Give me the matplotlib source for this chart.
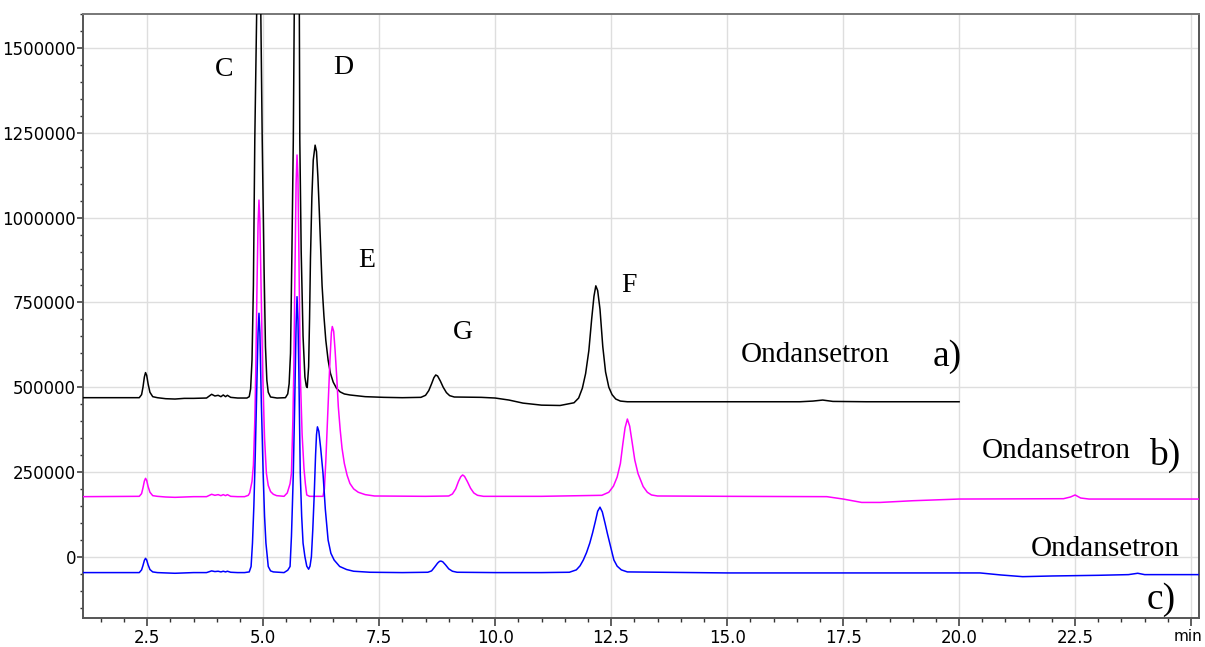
import matplotlib
matplotlib.use("Agg")
import matplotlib.pyplot as plt
from matplotlib.ticker import MultipleLocator, FixedLocator

# ---------------- data ----------------
# trace a) black
t_a = [1.1, 2.33, 2.38, 2.41, 2.44, 2.465, 2.49, 2.52, 2.56, 2.62, 2.72, 2.9, 3.1,
       3.3, 3.5, 3.78, 3.89, 3.96, 4.03, 4.09, 4.14, 4.19, 4.23, 4.30, 4.45,
       4.65, 4.70, 4.73, 4.76, 4.79, 4.82, 4.86, 4.91, 4.95, 4.98, 5.02, 5.05,
       5.08, 5.11, 5.16, 5.30, 5.48, 5.53, 5.56, 5.59, 5.62, 5.65, 5.67, 5.73,
       5.78, 5.79, 5.82, 5.86, 5.90, 5.93, 5.95, 5.98, 6.00, 6.02, 6.05, 6.08,
       6.12, 6.15, 6.18, 6.21, 6.24, 6.27, 6.31, 6.35, 6.40, 6.45, 6.51, 6.58,
       6.66, 6.75, 6.87, 7.2, 7.6, 8.0, 8.40, 8.50, 8.57, 8.63, 8.68, 8.72,
       8.76, 8.82, 8.88, 8.95, 9.02, 9.12, 9.7, 10.0, 10.3, 10.6, 11.0, 11.4,
       11.70, 11.80, 11.88, 11.95, 12.02, 12.08, 12.13, 12.17, 12.21, 12.26,
       12.32, 12.38, 12.45, 12.52, 12.60, 12.70, 12.85, 14.0, 15.5, 16.57,
       16.85, 17.06, 17.28, 18.0, 20.0]
y_a = [469000, 469000, 478000, 500000, 530000, 543000, 535000, 510000, 485000,
       472000, 469000, 466000, 465000, 467000, 467000, 468000, 479000, 474000,
       476000, 472000, 477000, 472000, 476000, 470000, 468000,
       468000, 472000, 495000, 580000, 800000, 1230000, 1600000, 2100000,
       1600000, 1230000, 850000, 620000, 520000, 485000, 471000, 468000,
       469000, 480000, 510000, 600000, 900000, 1230000, 1600000, 2900000,
       1600000, 1230000, 900000, 650000, 530000, 503000, 499000, 560000,
       700000, 880000, 1060000, 1170000, 1214000, 1195000, 1120000, 1020000,
       910000, 800000, 710000, 639000, 580000, 541000, 515000, 497000, 486000,
       480000, 477000, 472000, 470000, 469000, 470000, 476000, 490000, 510000,
       528000, 536000, 533000, 518000, 500000, 484000, 475000, 471000, 470000,
       468000, 462000, 453000, 447000, 446000,
       454000, 468000, 497000, 540000, 608000, 700000, 768000, 799000, 785000,
       730000, 620000, 545000, 500000, 478000, 465000, 459000, 457000, 457000,
       457000, 457000, 459000, 462000, 458000, 457000, 457000]

# trace b) magenta
t_b = [1.1, 2.33, 2.38, 2.41, 2.44, 2.465, 2.49, 2.52, 2.56, 2.62, 2.72, 2.9, 3.1,
       3.3, 3.5, 3.78, 3.89, 3.96, 4.03, 4.09, 4.14, 4.19, 4.23, 4.30, 4.45,
       4.60, 4.68, 4.71, 4.76, 4.79, 4.82, 4.84, 4.87, 4.89, 4.91, 4.93, 4.96,
       4.99, 5.03, 5.07, 5.11, 5.16, 5.22, 5.29, 5.45, 5.52, 5.58, 5.61, 5.64,
       5.66, 5.68, 5.71, 5.73, 5.75, 5.77, 5.80, 5.84, 5.88, 5.91, 5.94, 6.00,
       6.29, 6.32, 6.35, 6.38, 6.41, 6.44, 6.47, 6.49, 6.52, 6.55, 6.59, 6.62,
       6.66, 6.70, 6.75, 6.81, 6.87, 6.95, 7.05, 7.2, 7.4, 8.5, 9.0, 9.08,
       9.15, 9.21, 9.26, 9.30, 9.34, 9.40, 9.47, 9.54, 9.62, 9.75, 11.0,
       12.30, 12.45, 12.55, 12.63, 12.70, 12.75, 12.80, 12.85, 12.90, 12.95,
       13.01, 13.08, 13.19, 13.28, 13.37, 13.5, 15.0, 17.15, 17.5, 17.9, 18.3,
       19.0, 20.0, 22.25, 22.40, 22.50, 22.62, 22.8, 25.2]
y_b = [177000, 178000, 186000, 203000, 223000, 231000, 225000, 207000, 190000,
       180000, 178000, 176000, 175000, 176000, 177000, 177000, 184000, 181000,
       183000, 180000, 183000, 180000, 183000, 178000, 177000,
       177000, 181000, 188000, 222000, 270000, 400000, 541000, 820000, 980000,
       1052000, 990000, 760000, 541000, 350000, 246000, 210000, 192000, 184000,
       180000, 178000, 188000, 215000, 246000, 400000, 541000, 780000, 1100000,
       1185000, 1120000, 900000, 541000, 360000, 260000, 215000, 182000,
       178000, 178000, 200000, 280000, 380000, 480000, 580000, 660000, 679000,
       665000, 610000, 520000, 443000, 375000, 320000, 275000, 240000, 216000,
       200000, 190000, 183000, 179000, 178000, 179000, 185000, 200000, 222000,
       236000, 241000, 237000, 222000, 202000, 188000, 181000, 178000, 178000,
       181000, 190000, 208000, 235000, 275000, 330000, 380000, 406000, 385000,
       340000, 285000, 245000, 207000, 190000, 182000, 179000, 178000, 177000,
       170000, 160000, 160000, 165000, 170000, 171000, 176000, 182000, 173000,
       170000, 170000]

# trace c) blue
t_c = [1.1, 2.33, 2.38, 2.41, 2.44, 2.465, 2.49, 2.52, 2.56, 2.62, 2.72, 2.9, 3.1,
       3.3, 3.5, 3.78, 3.89, 3.96, 4.03, 4.09, 4.14, 4.19, 4.23, 4.30, 4.45,
       4.60, 4.70, 4.74, 4.77, 4.80, 4.83, 4.86, 4.89, 4.91, 4.93, 4.96, 5.00,
       5.03, 5.06, 5.11, 5.16, 5.22, 5.45, 5.53, 5.58, 5.61, 5.63, 5.65, 5.68,
       5.71, 5.73, 5.75, 5.77, 5.80, 5.83, 5.86, 5.90, 5.94, 5.98, 6.01, 6.04,
       6.07, 6.10, 6.13, 6.15, 6.17, 6.20, 6.24, 6.29, 6.34, 6.40, 6.46, 6.53,
       6.65, 6.80, 6.95, 7.3, 8.0, 8.55, 8.63, 8.70, 8.76, 8.80, 8.83, 8.87,
       8.93, 9.00, 9.08, 9.18, 10.0, 11.0, 11.60, 11.75, 11.83, 11.90, 11.97,
       12.04, 12.10, 12.16, 12.21, 12.26, 12.31, 12.37, 12.42, 12.47, 12.52,
       12.56, 12.63, 12.72, 12.85, 15.0, 17.5, 20.0, 20.45, 20.9, 21.37, 22.0,
       23.0, 23.65, 23.85, 24.0, 25.2]
y_c = [-47000, -47000, -39000, -26000, -11000, -5000, -10000, -24000, -38000,
       -45000, -47000, -48000, -49000, -48000, -47000, -47000, -42000, -44000,
       -43000, -45000, -43000, -45000, -43000, -46000, -47000,
       -47000, -45000, -29000, 40000, 150000, 300000, 480000, 660000, 718000,
       660000, 460000, 246000, 120000, 40000, -29000, -42000, -45000, -47000,
       -40000, -29000, 60000, 150000, 246000, 450000, 680000, 767000, 700000,
       540000, 246000, 120000, 40000, 0, -28000, -37000, -28000, 0, 80000,
       180000, 300000, 360000, 383000, 370000, 320000, 246000, 140000, 49000,
       10000, -10000, -29000, -38000, -43000, -46000, -47000, -46000, -42000,
       -30000, -19000, -14000, -13000, -15000, -24000, -36000, -43000, -46000,
       -47000, -47000, -46000, -39000, -27000, -10000, 12000, 40000, 70000,
       104000, 134000, 146000, 132000, 98000, 68000, 40000, 12000, -10000,
       -28000, -39000, -45000, -48000, -48000, -48000, -48000, -54000, -59000,
       -57000, -55000, -53000, -49000, -53000, -53000]

peak_labels = ["C", "D", "E", "G", "F"]
peak_label_x = [4.15, 6.72, 7.24, 9.31, 12.89]
peak_label_y = [1436000, 1442000, 875000, 662000, 800000]

x_ticks = [2.5, 5.0, 7.5, 10.0, 12.5, 15.0, 17.5, 20.0, 22.5, 25.0]
x_tick_labels = ["2.5", "5.0", "7.5", "10.0", "12.5", "15.0", "17.5", "20.0", "22.5", ""]
x_unit_label = "min"
y_ticks = [0, 250000, 500000, 750000, 1000000, 1250000, 1500000]
y_tick_labels = ["0", "250000", "500000", "750000", "1000000", "1250000", "1500000"]

# ---------------- figure ----------------
fig = plt.figure(figsize=(12.05, 6.47), dpi=100)
ax = fig.add_axes([0.0686, 0.0448, 0.9264, 0.9336])

ax.plot(t_a, y_a, color="black", lw=1.1, zorder=3)
ax.plot(t_b, y_b, color="#ff00ff", lw=1.1, zorder=3)
ax.plot(t_c, y_c, color="#0000ff", lw=1.1, zorder=4)

ax.set_xlim(1.11, 25.17)
ax.set_ylim(-181000, 1601000)

ax.xaxis.set_major_locator(FixedLocator(x_ticks))
ax.set_xticklabels(x_tick_labels)
ax.xaxis.set_minor_locator(MultipleLocator(0.5))
ax.yaxis.set_major_locator(FixedLocator(y_ticks))
ax.set_yticklabels(y_tick_labels)
ax.yaxis.set_minor_locator(MultipleLocator(50000))

ax.grid(True, which="major", color="#dedede", lw=1.0, zorder=0)
ax.set_axisbelow(True)

ax.tick_params(axis="y", which="major", direction="out", length=4.5, width=1.1,
               color="#333333", labelsize=12, pad=0.3)
ax.tick_params(axis="x", which="major", direction="out", length=5.5, width=1.1,
               color="#333333", labelsize=12, pad=2.5)
ax.tick_params(axis="y", which="minor", direction="out", length=2.5, width=1.0,
               color="#333333")
ax.tick_params(axis="x", which="minor", direction="out", length=3.0, width=1.0,
               color="#333333")
for lab in ax.get_xticklabels() + ax.get_yticklabels():
    lab.set_family("DejaVu Sans")

ax.annotate(x_unit_label, xy=(24.93, 0), xycoords=("data", "axes fraction"),
            xytext=(0, -8.0), textcoords="offset points", ha="center", va="top",
            fontsize=11, family="DejaVu Sans", annotation_clip=False)

for side in ["left", "bottom", "right", "top"]:
    ax.spines[side].set_color("#555555")
    ax.spines[side].set_linewidth(1.4)
ax.spines["top"].set_color("#777777")

serif = "Liberation Serif"
for lab, lx, ly in zip(peak_labels, peak_label_x, peak_label_y):
    ax.text(lx, ly, lab, fontsize=20, family=serif, ha="center", va="center")

ax.text(16.91, 596000, "Ondansetron", fontsize=21, family=serif, ha="center", va="center")
ax.text(19.74, 589000, "a)", fontsize=27, family=serif, ha="center", va="center")
ax.text(22.09, 313000, "Ondansetron", fontsize=21, family=serif, ha="center", va="center")
ax.text(24.44, 300000, "b)", fontsize=27, family=serif, ha="center", va="center")
ax.text(23.14, 24000, "Ondansetron", fontsize=21, family=serif, ha="center", va="center")
ax.text(24.35, -128000, "c)", fontsize=27, family=serif, ha="center", va="center")

fig.savefig("out.png", dpi=100)
